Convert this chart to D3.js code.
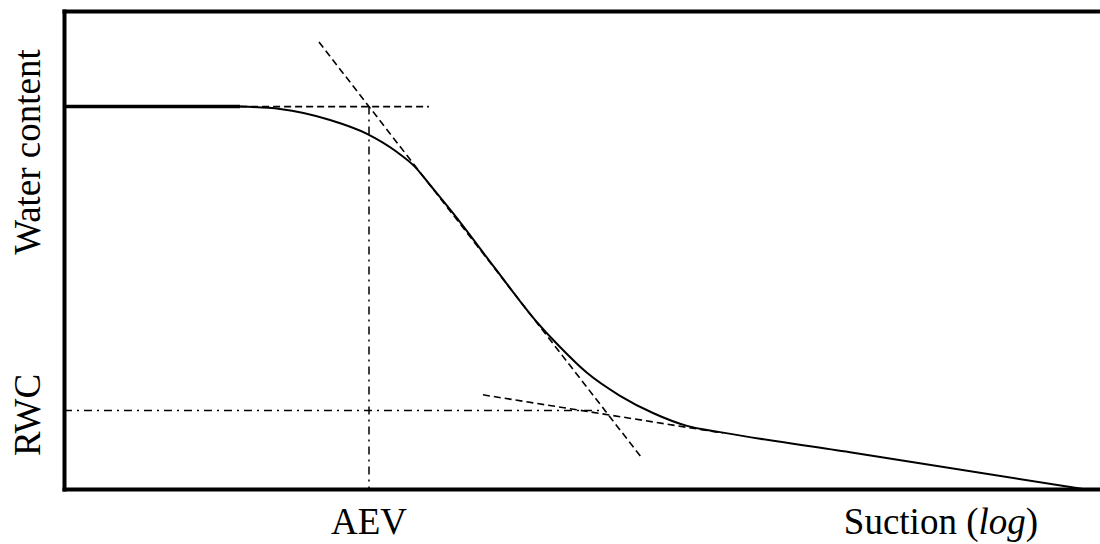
<!DOCTYPE html>
<html>
<head>
<meta charset="utf-8">
<script src="https://cdn.jsdelivr.net/npm/d3@7"></script>
</head>
<body style="margin:0">
<svg id="chart" width="1100" height="544"></svg>
<script>
// ---- data (x: log-suction units, y: water content fraction) ----
const flatX = [0, 1.70];
const flatY = [0.80, 0.80];

const curveX = [1.70, 2.085, 2.568, 2.925, 3.214, 3.388, 3.533, 3.755, 4.160, 4.546, 4.788, 5.048, 5.367, 5.685, 6.014, 6.332, 7.587, 9.836];
const curveY = [0.800, 0.795, 0.772, 0.743, 0.705, 0.674, 0.636, 0.577, 0.462, 0.354, 0.297, 0.243, 0.195, 0.159, 0.132, 0.119, 0.077, 0.000];

const steepTangentX = [2.461, 5.570];
const steepTangentY = [0.935, 0.067];
const topTangentX = [1.70, 3.523];
const topTangentY = [0.80, 0.80];
const lowTangentX = [4.044, 6.361];
const lowTangentY = [0.197, 0.117];

const aevLineX = [2.944, 2.944];
const aevLineY = [0.80, 0.0];
const rwcLineX = [0, 5.222];
const rwcLineY = [0.164, 0.164];

const xLabelText = ["AEV", "Suction"];
const xLabelPos = [2.944, 8.465];
const yLabelText = ["RWC", "Water content"];
const yLabelPos = [0.155, 0.705];

// ---- drawing ----
const FONT = "Liberation Serif";
const svg = d3.select("#chart");
const x = d3.scaleLinear().domain([0, 10]).range([64, 1100]);
const y = d3.scaleLinear().domain([0, 1]).range([489, 11]);

const line = d3.line().x(d => x(d[0])).y(d => y(d[1]));
const zip = (a, b) => a.map((v, i) => [v, b[i]]);

// x labels
xLabelText.forEach((t, i) => {
  const tx = svg.append("text").attr("x", x(xLabelPos[i])).attr("y", 534)
    .attr("text-anchor", "middle").attr("font-family", FONT).attr("font-size", 37);
  if (t === "Suction") {
    tx.append("tspan").text(t + " (");
    tx.append("tspan").attr("font-style", "italic").text("log");
    tx.append("tspan").text(")");
  } else {
    tx.text(t);
  }
});

// y labels
yLabelText.forEach((t, i) => {
  svg.append("text")
    .attr("transform", `translate(40,${y(yLabelPos[i])}) rotate(-90)`)
    .attr("text-anchor", "middle").attr("font-family", FONT).attr("font-size", 37).text(t);
});

// frame (axes without ticks)
const axisStyle = g => g.select(".domain").attr("stroke", "#000").attr("stroke-width", 4).attr("stroke-linecap", "square");
svg.append("g").attr("transform", `translate(0,${y(0)})`)
  .call(d3.axisBottom(x).tickValues([]).tickSizeOuter(0)).call(axisStyle);
svg.append("g").attr("transform", `translate(0,${y(1)})`)
  .call(d3.axisTop(x).tickValues([]).tickSizeOuter(0)).call(axisStyle);
svg.append("g").attr("transform", `translate(${x(0)},0)`)
  .call(d3.axisLeft(y).tickValues([]).tickSizeOuter(0)).call(axisStyle);

// dash-dot guide lines
[[aevLineX, aevLineY], [rwcLineX, rwcLineY]].forEach(([a, b]) => {
  svg.append("path").attr("d", line(zip(a, b)))
    .attr("fill", "none").attr("stroke", "#000").attr("stroke-width", 1.5)
    .attr("stroke-dasharray", "8,5,2,5");
});

// dashed tangents
[[steepTangentX, steepTangentY], [topTangentX, topTangentY], [lowTangentX, lowTangentY]].forEach(([a, b]) => {
  svg.append("path").attr("d", line(zip(a, b)))
    .attr("fill", "none").attr("stroke", "#000").attr("stroke-width", 1.6)
    .attr("stroke-dasharray", "7,4");
});

// saturated flat segment
svg.append("path").attr("d", line(zip(flatX, flatY)))
  .attr("fill", "none").attr("stroke", "#000").attr("stroke-width", 3.5);

// SWCC curve
svg.append("path").attr("d", line.curve(d3.curveMonotoneX)(zip(curveX, curveY)))
  .attr("fill", "none").attr("stroke", "#000").attr("stroke-width", 2);
</script>
</body>
</html>
